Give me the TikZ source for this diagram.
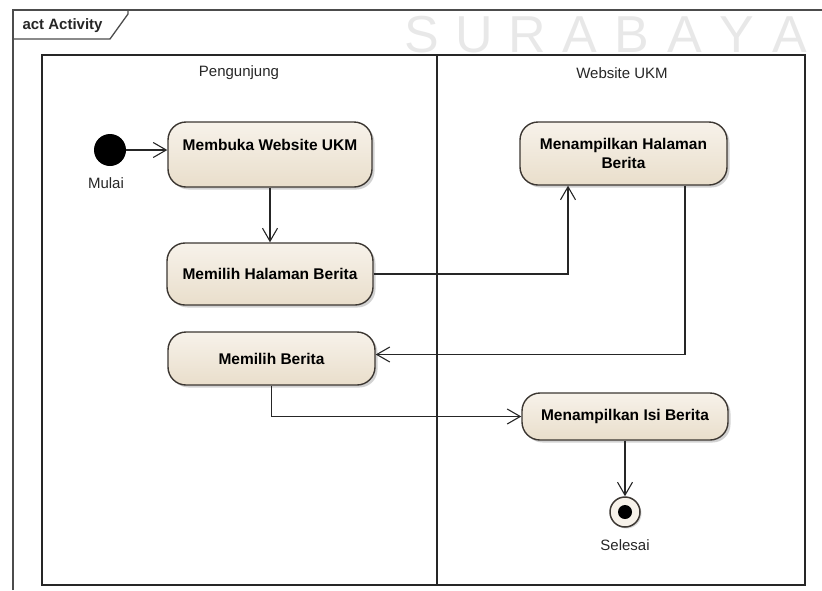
\documentclass[tikz,border=0pt]{standalone}
\usepackage{fontspec}
\setmainfont{Liberation Sans}
\usetikzlibrary{arrows.meta,shadows}

\begin{document}
\begin{tikzpicture}[x=1pt,y=-1pt,
  aksi/.style={draw=garis,line width=1.4pt,rounded corners=18pt,top color=atas,bottom color=bawah,
    drop shadow={shadow xshift=2.5pt,shadow yshift=-2.5pt,fill=black!35},
    align=center,inner sep=2pt,font=\fontsize{15.5}{19}\selectfont\bfseries},
  alur/.style={line width=1.1pt,draw=black!85,-{Straight Barb[length=13pt,width=15pt,line width=1.1pt]}},
  teks/.style={font=\fontsize{15}{18}\selectfont,text=black!85},
  tanda/.style={anchor=base,text=black!9,font=\fontsize{52}{52}\selectfont}]
\definecolor{garis}{RGB}{60,55,50}
\definecolor{atas}{RGB}{247,242,234}
\definecolor{bawah}{RGB}{233,222,203}
\useasboundingbox (0,0) rectangle (822,590);
\foreach \h [count=\i from 0] in {S,U,R,A,B,A,Y,A}
  \node[tanda] (wm\i) at (422+52.5*\i,52) {\h};
\draw[line width=1.3pt,black!70] (13,590) -- (13,10) -- (822,10);
\draw[line width=1.3pt,black!70] (13,39) -- (110,39) -- (128,14) -- (128,10);
\node[anchor=base west,font=\fontsize{15}{18}\selectfont\bfseries,text=black!85] (judul) at (19,29) {act Activity};
\draw[line width=1.3pt,black!85] (42,55) rectangle (805,585);
\draw[line width=1.3pt,black!85] (437,55) -- (437,585);
\node[teks] (lane1) at (239,73) {Pengunjung};
\node[teks] (lane2) at (622,73) {Website UKM};
\node[circle,fill=black,minimum size=32pt,inner sep=0pt] (mulai) at (110,150) {};
\node[teks] (lblmulai) at (106,183) {Mulai};
\node[aksi,minimum width=204pt,minimum height=65pt] (membuka) at (270,154.5) {Membuka Website UKM\\\mbox{}};
\node[aksi,minimum width=206pt,minimum height=62pt] (pilihhal) at (270,274) {Memilih Halaman Berita};
\node[aksi,minimum width=207pt,minimum height=63pt] (tampilhal) at (623.5,153.5) {Menampilkan Halaman\\Berita};
\node[aksi,minimum width=207pt,minimum height=53pt] (pilihberita) at (271.5,358.5) {Memilih Berita};
\node[aksi,minimum width=206pt,minimum height=47pt] (tampilisi) at (625,416.5) {Menampilkan Isi Berita};
\node[circle,draw=garis,line width=1.5pt,fill=atas,minimum size=30pt,inner sep=0pt,
  drop shadow={shadow xshift=1.5pt,shadow yshift=-1.5pt,fill=black!30}] (selesai) at (625,512) {};
\fill[black] (selesai.center) circle[radius=7pt];
\node[teks] (lblselesai) at (625,545) {Selesai};
\draw[alur] (mulai.east) -- (mulai.east -| membuka.west);
\draw[alur] (membuka) -- (pilihhal);
\draw[alur] (pilihhal.east) -| ([xshift=-55.5pt]tampilhal.south);
\draw[alur] ([xshift=61.5pt]tampilhal.south) |- ([yshift=4pt]pilihberita.east);
\draw[alur] (pilihberita.south) |- (tampilisi.west);
\draw[alur] (tampilisi) -- (selesai);
\end{tikzpicture}
\end{document}
